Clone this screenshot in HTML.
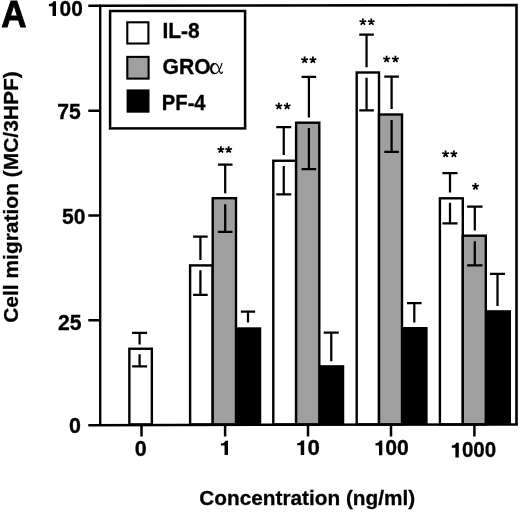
<!DOCTYPE html>
<html><head><meta charset="utf-8"><title>Chart</title>
<style>html,body{margin:0;padding:0;background:#fff;overflow:hidden;}svg{display:block;will-change:transform;filter:grayscale(1);}text{font-family:"Liberation Sans", sans-serif;font-weight:bold;fill:#000;stroke:#000;stroke-width:0.3px;}</style></head>
<body>
<svg width="520" height="512" viewBox="0 0 520 512">
<rect width="520" height="512" fill="#fff"/>
<rect x="129.35" y="348.75" width="22.5" height="75.65" fill="#fff" stroke="#000" stroke-width="2.4"/>
<rect x="236.00" y="327.30" width="25.25" height="97.10" fill="#000"/>
<rect x="190.10" y="265.40" width="22.60" height="159.00" fill="#fff" stroke="#000" stroke-width="2.4"/>
<rect x="212.70" y="198.20" width="23.30" height="226.20" fill="#9f9f9f" stroke="#000" stroke-width="2.4"/>
<rect x="319.30" y="365.20" width="24.95" height="59.20" fill="#000"/>
<rect x="273.30" y="160.75" width="22.80" height="263.65" fill="#fff" stroke="#000" stroke-width="2.4"/>
<rect x="296.10" y="122.70" width="23.20" height="301.70" fill="#9f9f9f" stroke="#000" stroke-width="2.4"/>
<rect x="402.00" y="327.00" width="25.60" height="97.40" fill="#000"/>
<rect x="356.70" y="72.50" width="22.30" height="351.90" fill="#fff" stroke="#000" stroke-width="2.4"/>
<rect x="379.00" y="114.50" width="23.00" height="309.90" fill="#9f9f9f" stroke="#000" stroke-width="2.4"/>
<rect x="485.80" y="310.20" width="25.20" height="114.20" fill="#000"/>
<rect x="439.90" y="198.30" width="22.90" height="226.10" fill="#fff" stroke="#000" stroke-width="2.4"/>
<rect x="462.80" y="235.70" width="23.00" height="188.70" fill="#9f9f9f" stroke="#000" stroke-width="2.4"/>
<path d="M132.10 332.80H147.10M139.60 332.80V344.40M139.60 354.30V366.30M132.10 366.30H147.10" fill="none" stroke="#000" stroke-width="2.25"/>
<path d="M193.10 236.50H207.70M200.40 236.50V260.00M200.40 270.30V294.80M193.10 294.80H207.70" fill="none" stroke="#000" stroke-width="2.25"/>
<path d="M217.90 164.60H232.50M225.20 164.60V193.30M225.20 204.20V231.75M217.90 231.75H232.50" fill="none" stroke="#000" stroke-width="2.25"/>
<path d="M240.90 311.70H255.10M248.00 311.70V322.60" fill="none" stroke="#000" stroke-width="2.25"/>
<path d="M276.25 127.00H291.25M283.75 127.00V155.00M283.75 166.00V194.40M276.25 194.40H291.25" fill="none" stroke="#000" stroke-width="2.25"/>
<path d="M301.60 76.90H316.20M308.90 76.90V117.50M308.90 128.00V169.00M301.60 169.00H316.20" fill="none" stroke="#000" stroke-width="2.25"/>
<path d="M323.75 332.50H338.75M331.25 332.50V361.25" fill="none" stroke="#000" stroke-width="2.25"/>
<path d="M359.25 34.50H373.85M366.55 34.50V67.30M366.55 77.80V110.30M359.25 110.30H373.85" fill="none" stroke="#000" stroke-width="2.25"/>
<path d="M384.30 76.70H398.90M391.60 76.70V108.90M391.60 120.00V151.75M384.30 151.75H398.90" fill="none" stroke="#000" stroke-width="2.25"/>
<path d="M407.00 303.20H421.60M414.30 303.20V322.50" fill="none" stroke="#000" stroke-width="2.25"/>
<path d="M442.40 173.00H457.60M450.00 173.00V192.60M450.00 202.80V223.25M442.40 223.25H457.60" fill="none" stroke="#000" stroke-width="2.25"/>
<path d="M467.10 206.50H482.50M474.80 206.50V230.60M474.80 241.25V265.40M467.10 265.40H482.50" fill="none" stroke="#000" stroke-width="2.25"/>
<path d="M490.00 273.90H505.00M497.50 273.90V306.00" fill="none" stroke="#000" stroke-width="2.25"/>
<path d="M88.3 5.8L516.5 5.1V424.40" fill="none" stroke="#000" stroke-width="2.6" stroke-linejoin="miter"/>
<path d="M100.20 4.5V426.00" fill="none" stroke="#000" stroke-width="2.35"/>
<path d="M88.3 425.15L517.8 424.40" fill="none" stroke="#000" stroke-width="2.5"/>
<path d="M88.3 110.7H100.2M88.3 215.6H100.2M88.3 320.2H100.2" fill="none" stroke="#000" stroke-width="2.5"/>
<path d="M141.5 425V436.5M225.1 425V436.5M308 425V436.5M391 425V436.5M474.4 425V436.5" fill="none" stroke="#000" stroke-width="2.5"/>
<path d="M56.00 1.30 L53.28 1.30 C52.89 2.98 51.43 4.01 48.90 4.11 L48.90 6.23 L52.55 6.23 L52.55 16.10 L56.00 16.10 Z" fill="#000"/>
<text transform="translate(59.57 16.06) scale(0.9846 1)" font-size="21.20">00</text>
<text transform="translate(57.35 118.86) scale(0.9978 1)" font-size="21.20">75</text>
<text transform="translate(61.97 223.71) scale(0.9933 1)" font-size="21.20">50</text>
<text transform="translate(58.06 329.61) scale(0.9973 1)" font-size="21.20">25</text>
<text transform="translate(68.94 432.81) scale(1.0129 1)" font-size="21.20">0</text>
<text transform="translate(134.74 455.81) scale(1.0129 1)" font-size="21.20">0</text>
<path d="M228.00 440.80 L225.28 440.80 C224.89 442.41 223.43 443.40 220.90 443.50 L220.90 445.53 L224.55 445.53 L224.55 455.00 L228.00 455.00 Z" fill="#000"/>
<path d="M304.20 440.50 L301.48 440.50 C301.09 442.15 299.63 443.18 297.10 443.27 L297.10 445.37 L300.75 445.37 L300.75 455.10 L304.20 455.10 Z" fill="#000"/>
<text transform="translate(307.41 455.16) scale(1.0526 1)" font-size="21.20">0</text>
<path d="M382.30 440.50 L379.69 440.50 C379.32 442.18 377.92 443.21 375.50 443.31 L375.50 445.43 L378.99 445.43 L378.99 455.30 L382.30 455.30 Z" fill="#000"/>
<text transform="translate(385.35 455.26) scale(0.9984 1)" font-size="21.20">00</text>
<path d="M458.80 442.70 L456.12 442.70 C455.73 444.38 454.29 445.41 451.80 445.51 L451.80 447.63 L455.40 447.63 L455.40 457.50 L458.80 457.50 Z" fill="#000"/>
<text transform="translate(461.88 457.41) scale(0.9701 1)" font-size="21.20">000</text>
<path d="M221.60 149.70L221.80 146.20L219.90 146.20L220.10 149.70ZM221.08 150.41L224.47 149.52L223.89 147.71L220.62 148.99ZM220.24 150.14L222.14 153.09L223.68 151.97L221.46 149.26ZM220.24 149.26L218.02 151.97L219.56 153.09L221.46 150.14ZM221.08 148.99L217.81 147.71L217.23 149.52L220.62 150.41Z" fill="#000"/>
<path d="M229.40 149.70L229.60 146.20L227.70 146.20L227.90 149.70ZM228.88 150.41L232.27 149.52L231.69 147.71L228.42 148.99ZM228.04 150.14L229.94 153.09L231.48 151.97L229.26 149.26ZM228.04 149.26L225.82 151.97L227.36 153.09L229.26 150.14ZM228.88 148.99L225.61 147.71L225.03 149.52L228.42 150.41Z" fill="#000"/>
<path d="M279.60 106.20L279.80 102.70L277.90 102.70L278.10 106.20ZM279.08 106.91L282.47 106.02L281.89 104.21L278.62 105.49ZM278.24 106.64L280.14 109.59L281.68 108.47L279.46 105.76ZM278.24 105.76L276.02 108.47L277.56 109.59L279.46 106.64ZM279.08 105.49L275.81 104.21L275.23 106.02L278.62 106.91Z" fill="#000"/>
<path d="M287.90 106.20L288.10 102.70L286.20 102.70L286.40 106.20ZM287.38 106.91L290.77 106.02L290.19 104.21L286.92 105.49ZM286.54 106.64L288.44 109.59L289.98 108.47L287.76 105.76ZM286.54 105.76L284.32 108.47L285.86 109.59L287.76 106.64ZM287.38 105.49L284.11 104.21L283.53 106.02L286.92 106.91Z" fill="#000"/>
<path d="M305.35 59.95L305.55 56.45L303.65 56.45L303.85 59.95ZM304.83 60.66L308.22 59.77L307.64 57.96L304.37 59.24ZM303.99 60.39L305.89 63.34L307.43 62.22L305.21 59.51ZM303.99 59.51L301.77 62.22L303.31 63.34L305.21 60.39ZM304.83 59.24L301.56 57.96L300.98 59.77L304.37 60.66Z" fill="#000"/>
<path d="M313.65 59.95L313.85 56.45L311.95 56.45L312.15 59.95ZM313.13 60.66L316.52 59.77L315.94 57.96L312.67 59.24ZM312.29 60.39L314.19 63.34L315.73 62.22L313.51 59.51ZM312.29 59.51L310.07 62.22L311.61 63.34L313.51 60.39ZM313.13 59.24L309.86 57.96L309.28 59.77L312.67 60.66Z" fill="#000"/>
<path d="M363.60 21.90L363.80 18.40L361.90 18.40L362.10 21.90ZM363.08 22.61L366.47 21.72L365.89 19.91L362.62 21.19ZM362.24 22.34L364.14 25.29L365.68 24.17L363.46 21.46ZM362.24 21.46L360.02 24.17L361.56 25.29L363.46 22.34ZM363.08 21.19L359.81 19.91L359.23 21.72L362.62 22.61Z" fill="#000"/>
<path d="M372.00 21.90L372.20 18.40L370.30 18.40L370.50 21.90ZM371.48 22.61L374.87 21.72L374.29 19.91L371.02 21.19ZM370.64 22.34L372.54 25.29L374.08 24.17L371.86 21.46ZM370.64 21.46L368.42 24.17L369.96 25.29L371.86 22.34ZM371.48 21.19L368.21 19.91L367.63 21.72L371.02 22.61Z" fill="#000"/>
<path d="M387.35 59.20L387.55 55.70L385.65 55.70L385.85 59.20ZM386.83 59.91L390.22 59.02L389.64 57.21L386.37 58.49ZM385.99 59.64L387.89 62.59L389.43 61.47L387.21 58.76ZM385.99 58.76L383.77 61.47L385.31 62.59L387.21 59.64ZM386.83 58.49L383.56 57.21L382.98 59.02L386.37 59.91Z" fill="#000"/>
<path d="M396.15 59.20L396.35 55.70L394.45 55.70L394.65 59.20ZM395.63 59.91L399.02 59.02L398.44 57.21L395.17 58.49ZM394.79 59.64L396.69 62.59L398.23 61.47L396.01 58.76ZM394.79 58.76L392.57 61.47L394.11 62.59L396.01 59.64ZM395.63 58.49L392.36 57.21L391.78 59.02L395.17 59.91Z" fill="#000"/>
<path d="M446.30 154.00L446.50 150.50L444.60 150.50L444.80 154.00ZM445.78 154.71L449.17 153.82L448.59 152.01L445.32 153.29ZM444.94 154.44L446.84 157.39L448.38 156.27L446.16 153.56ZM444.94 153.56L442.72 156.27L444.26 157.39L446.16 154.44ZM445.78 153.29L442.51 152.01L441.93 153.82L445.32 154.71Z" fill="#000"/>
<path d="M454.60 154.00L454.80 150.50L452.90 150.50L453.10 154.00ZM454.08 154.71L457.47 153.82L456.89 152.01L453.62 153.29ZM453.24 154.44L455.14 157.39L456.68 156.27L454.46 153.56ZM453.24 153.56L451.02 156.27L452.56 157.39L454.46 154.44ZM454.08 153.29L450.81 152.01L450.23 153.82L453.62 154.71Z" fill="#000"/>
<path d="M476.23 186.50L476.43 183.00L474.53 183.00L474.73 186.50ZM475.71 187.21L479.10 186.32L478.51 184.51L475.24 185.79ZM474.87 186.94L476.76 189.89L478.30 188.77L476.08 186.06ZM474.87 186.06L472.65 188.77L474.19 189.89L476.08 186.94ZM475.71 185.79L472.44 184.51L471.85 186.32L475.24 187.21Z" fill="#000"/>
<rect x="110.1" y="11.0" width="135.0" height="117.4" fill="#fff" stroke="#000" stroke-width="2.5"/>
<rect x="127.3" y="22.3" width="21.1" height="21.2" fill="#fff" stroke="#000" stroke-width="2.1"/>
<rect x="127.3" y="56.9" width="21.3" height="21.7" fill="#9f9f9f" stroke="#000" stroke-width="2.1"/>
<rect x="126.6" y="89.4" width="22.9" height="23.3" fill="#000"/>
<text transform="translate(162.44 37.85) scale(0.9837 1)" font-size="21.30">IL-8</text>
<text transform="translate(162.45 73.80) scale(0.9924 1)" font-size="21.30">GRO</text>
<g transform="translate(210.00 62.90)" fill="none" stroke="#000" stroke-linecap="round"><path d="M11.9 0.5C10.9 4 8.4 10.7 4.9 10.7C2.3 10.7 1.0 8.5 1.0 5.9C1.0 3 2.6 0.7 5.1 0.7C8.2 0.7 9.0 5.5 9.7 8.6C10.1 10.5 11.3 11.3 12.5 9.2" stroke-width="1.15"/><path d="M3.6 10.3C1.9 9.6 1.1 7.8 1.1 5.9C1.1 3.7 2.0 1.9 3.6 1.1" stroke-width="2.0"/></g>
<text transform="translate(161.78 109.75) scale(0.9502 1)" font-size="21.30">PF-4</text>
<text transform="translate(1.32 26.80) scale(0.9642 1)" font-size="36.38" style="stroke-width:0.9px">A</text>
<text transform="translate(199.37 505.17) scale(0.9873 1)" font-size="21.06">Concentration (ng/ml)</text>
<text transform="translate(17.89 322.84) rotate(-90) scale(1.0008 1)" font-size="20.96">Cell migration (MC/3HPF)</text>
</svg>
</body></html>
